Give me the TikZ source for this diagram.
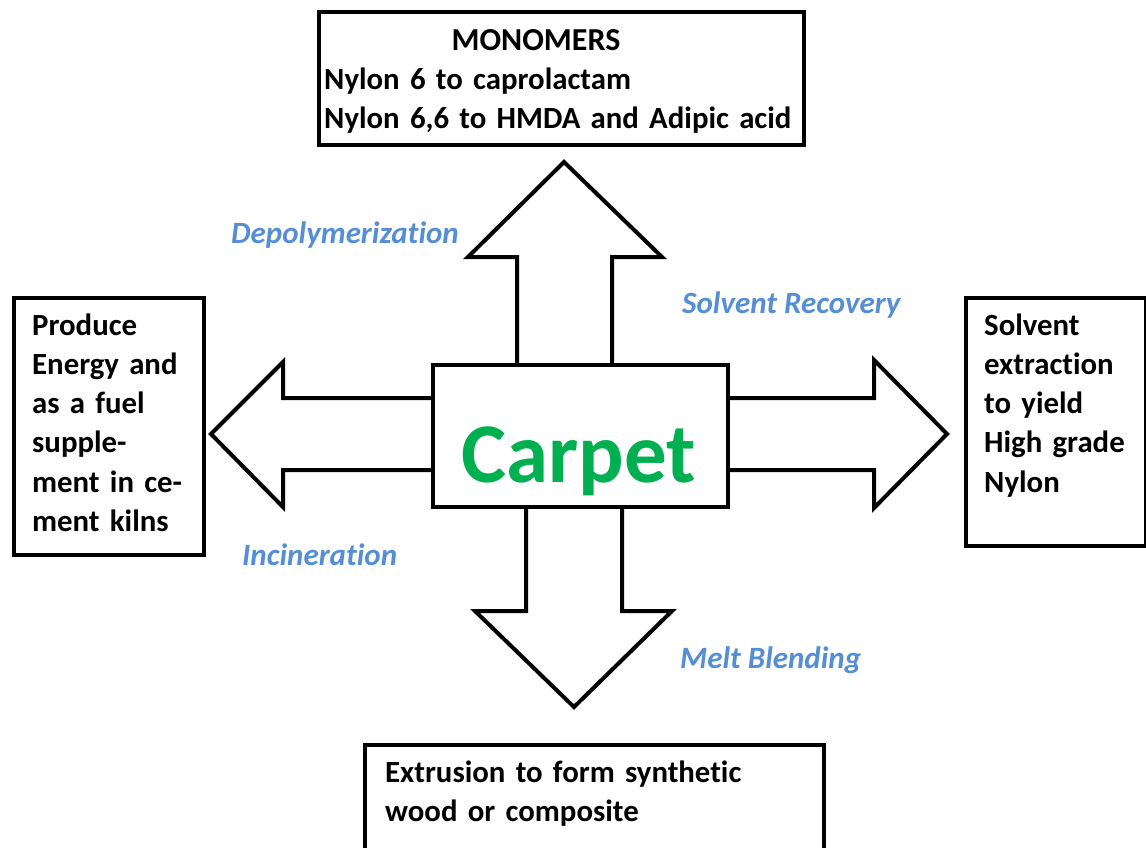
\documentclass[tikz,border=0pt]{standalone}
\usepackage{fontspec}
\setmainfont{Carlito}[Ligatures=NoCommon]
\definecolor{lblue}{RGB}{85,142,213}
\definecolor{cgreen}{RGB}{0,176,80}
\begin{document}
\begin{tikzpicture}[x=1pt,y=-1pt,
  box/.style={draw=black, line width=4pt, line join=miter, inner sep=0pt, anchor=north west, fill=white},
  body/.style={anchor=base west, inner sep=0pt, align=left, text width=#1,
    font=\bfseries\fontsize{30.8}{39.3}\selectfont},
  lbl/.style={anchor=base west, inner sep=0pt, text=lblue,
    font=\bfseries\itshape\fontsize{31}{36}\selectfont},
  blockarrow/.style={draw=black, line width=4pt, line join=miter, fill=white}]
\useasboundingbox (0,0) rectangle (1146,847);

% block arrows
\draw[blockarrow] (517,363) -- (517,257) -- (468,257) -- (564,162) -- (662,257) -- (612,257) -- (612,363);
\draw[blockarrow] (431,398) -- (283,398) -- (283,362) -- (211,434) -- (283,507) -- (283,470) -- (431,470);
\draw[blockarrow] (726,398) -- (874,398) -- (874,360) -- (947,434) -- (874,508) -- (874,470) -- (726,470);
\draw[blockarrow] (526,505) -- (526,611) -- (475,611) -- (574,707) -- (672,611) -- (622,611) -- (622,505);

% boxes
\node[box, minimum width=485, minimum height=133] (mono) at (317,10) {};
\node[box, minimum width=295, minimum height=142] (carpet) at (431,363) {};
\node[box, minimum width=190, minimum height=257] (energy) at (12,296) {};
\node[box, minimum width=180, minimum height=248] (solvent) at (964,296) {};
\node[box, minimum width=459, minimum height=106] (extr) at (363,743) {};

% texts
\node[anchor=base, inner sep=0pt, font=\bfseries\fontsize{32}{39.3}\selectfont] (monot) at (536,50) {MONOMERS};
\node[body=478] (monob) at (324,89) {Nylon 6 to caprolactam\\Nylon 6,6 to HMDA and Adipic acid};
\node[anchor=base, inner sep=0pt, text=cgreen, font=\bfseries\fontsize{85}{100}\selectfont] (carpett) at (578.5,482) {Carpet};
\node[body=178] (energyt) at (32,335) {Produce\\Energy and\\as a fuel\\supple-\\ment in ce-\\ment kilns};
\node[body=160] (solventt) at (984,335) {Solvent\\extraction\\to yield\\High grade\\Nylon};
\node[body=430] (extrt) at (385,782) {Extrusion to form synthetic\\wood or composite};

% labels
\node[lbl] (l1) at (231,243) {Depolymerization};
\node[lbl] (l2) at (682,313) {Solvent Recovery};
\node[lbl] (l3) at (242,565) {Incineration};
\node[lbl] (l4) at (680,668) {Melt Blending};
\end{tikzpicture}
\end{document}
